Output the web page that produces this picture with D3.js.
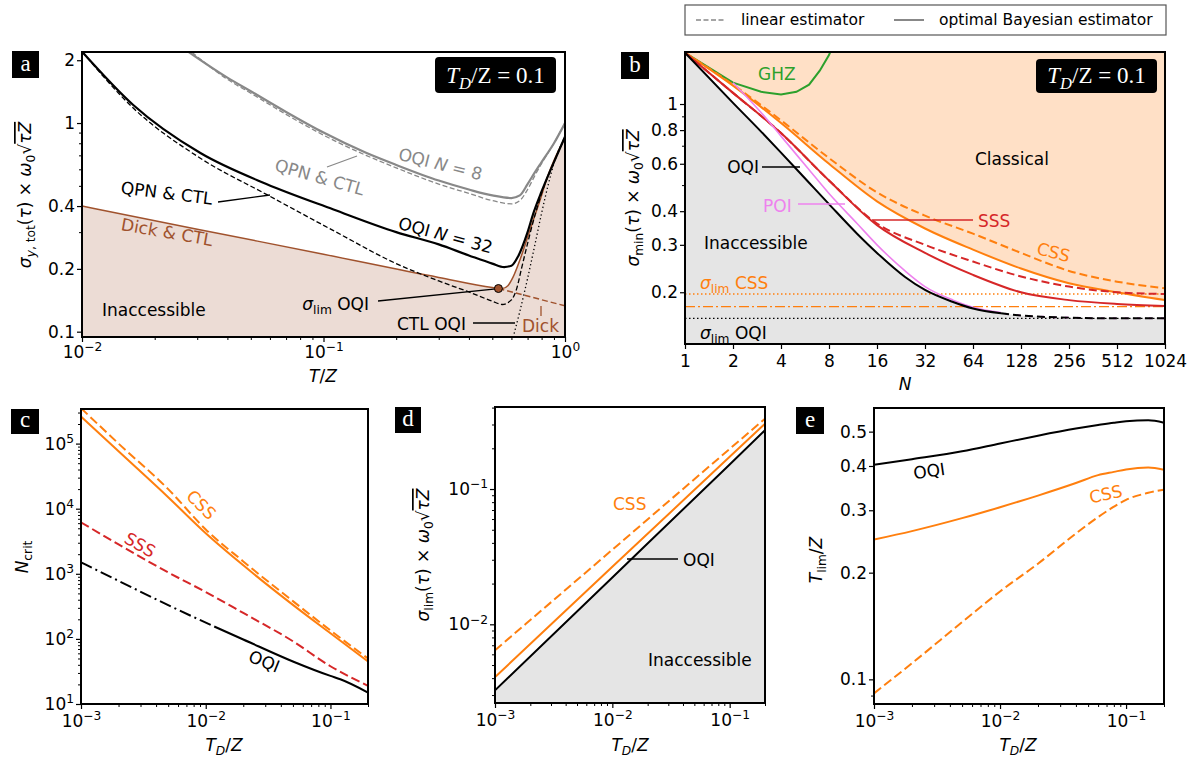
<!DOCTYPE html>
<html><head><meta charset="utf-8">
<script src="https://cdn.jsdelivr.net/npm/d3@7"></script>
<style>
body{margin:0;background:#fff}
</style></head><body>
<svg id="fig" width="1197" height="762"></svg>
<script>
// ---------- panel a : sigma vs T/Z ----------
const aT_oqi32 = [0.01, 0.0163, 0.0308, 0.058, 0.11, 0.2, 0.3, 0.4, 0.5, 0.56, 0.6, 0.64, 0.7, 0.74, 0.8, 0.9, 1.0];
const aS_oqi32 = [2.2, 1.22, 0.72, 0.51, 0.385, 0.30, 0.262, 0.232, 0.212, 0.204, 0.207, 0.23, 0.30, 0.37, 0.47, 0.65, 0.86];
const aT_qpn32 = [0.01, 0.0163, 0.0308, 0.058, 0.11, 0.2, 0.3, 0.4, 0.5, 0.55, 0.6, 0.63, 0.66, 0.7, 0.75, 0.8, 0.9, 1.0];
const aS_qpn32 = [2.2, 1.18, 0.68, 0.455, 0.305, 0.212, 0.175, 0.155, 0.14, 0.135, 0.142, 0.16, 0.2, 0.265, 0.36, 0.46, 0.65, 0.86];
const aT_oqi8 = [0.026, 0.04, 0.05, 0.07, 0.1, 0.15, 0.2, 0.3, 0.4, 0.5, 0.6, 0.65, 0.7, 0.75, 0.8, 0.9, 1.0];
const aS_oqi8 = [2.3, 1.65, 1.42, 1.13, 0.9, 0.72, 0.63, 0.53, 0.48, 0.45, 0.437, 0.45, 0.51, 0.58, 0.65, 0.8, 1.0];
const aT_qpn8 = [0.027, 0.04, 0.05, 0.07, 0.1, 0.15, 0.2, 0.3, 0.4, 0.5, 0.6, 0.65, 0.7, 0.75, 0.8, 0.9, 1.0];
const aS_qpn8 = [2.3, 1.62, 1.39, 1.1, 0.875, 0.7, 0.61, 0.51, 0.46, 0.425, 0.41, 0.425, 0.48, 0.56, 0.64, 0.8, 1.0];
const aT_dick = [0.01, 0.03, 0.1, 0.3, 0.5, 0.55, 0.58, 0.61, 0.65, 0.694, 0.75, 0.79, 0.85, 0.92, 1.0];
const aS_dick = [0.4, 0.31, 0.235, 0.182, 0.163, 0.161, 0.166, 0.183, 0.22, 0.275, 0.36, 0.43, 0.56, 0.7, 0.85];
const aT_dickExt = [0.53, 1.0];
const aS_dickExt = [0.161, 0.133];
const aT_ctl = [0.61, 0.65, 0.7, 0.75, 0.8, 0.85, 0.9, 1.0];
const aS_ctl = [0.094, 0.125, 0.18, 0.26, 0.37, 0.5, 0.64, 0.86];
const aLim = [0.53, 0.161];

// ---------- panel b : sigma_min vs N ----------
const bN = [1, 2, 4, 8, 16, 32, 64, 128, 256, 512, 1024];
const bCssBayes = [1.55, 1.17, 0.85, 0.6, 0.435, 0.345, 0.288, 0.245, 0.216, 0.2, 0.187];
const bCssLin = [1.55, 1.18, 0.87, 0.63, 0.47, 0.385, 0.33, 0.28, 0.24, 0.219, 0.207];
const bSssBayes = [1.55, 1.1, 0.78, 0.52, 0.355, 0.28, 0.232, 0.2, 0.187, 0.181, 0.178];
const bSssLin = [1.55, 1.1, 0.78, 0.52, 0.36, 0.3, 0.26, 0.229, 0.21, 0.2, 0.197];
const bOqiN = [1, 2, 3, 4, 6, 8, 12, 16, 24, 32, 48, 64, 96];
const bOqi = [1.55, 1.01, 0.79, 0.66, 0.51, 0.425, 0.33, 0.28, 0.228, 0.204, 0.184, 0.174, 0.167];
const bPoiN = [2, 3, 4, 6, 8, 12, 16, 24, 32, 48, 64, 96];
const bPoi = [1.2, 0.93, 0.76, 0.57, 0.465, 0.36, 0.3, 0.24, 0.21, 0.187, 0.176, 0.168];
const bTailN = [96, 128, 256, 512, 1024];
const bTail = [0.167, 0.164, 0.161, 0.16, 0.16];
const bGhzN = [1, 2, 3, 4, 5, 6, 7, 8, 9];
const bGhz = [1.55, 1.2, 1.11, 1.085, 1.11, 1.18, 1.33, 1.52, 1.8];
const bLimCss = 0.197, bLimCss2 = 0.177, bLimOqi = 0.16;
const bTicks = [1, 2, 4, 8, 16, 32, 64, 128, 256, 512, 1024];

// ---------- panel c : N_crit vs T_D/Z ----------
const cTd = [0.001, 0.002, 0.005, 0.01, 0.02, 0.05, 0.1, 0.2];
const cCssBayes = [2.6e5, 7.6e4, 1.5e4, 4.2e3, 1.35e3, 333, 122, 45];
const cCssLin = [3.5e5, 1.0e5, 2.0e4, 4.8e3, 1.55e3, 380, 135, 50];
const cSssLin = [6170, 2820, 1050, 525, 250, 92, 38, 19];
const cOqiTdA = [0.001, 0.002, 0.005, 0.0117];
const cOqiA = [1500, 780, 330, 155];
const cOqiTdB = [0.0117, 0.02, 0.05, 0.1, 0.12, 0.2];
const cOqiB = [155, 98, 45, 27, 24, 15];

// ---------- panel d : sigma_lim vs T_D/Z ----------
const dTd = [0.001, 0.01, 0.1, 0.2];
const dOqi = [0.00325, 0.0222, 0.152, 0.272];
const dCssBayes = [0.00407, 0.0266, 0.173, 0.304];
const dCssLin = [0.00643, 0.0356, 0.198, 0.331];

// ---------- panel e : T_lim vs T_D/Z ----------
const eTd = [0.001, 0.002, 0.005, 0.01, 0.02, 0.04, 0.06, 0.08, 0.1, 0.15, 0.2];
const eOqi = [0.403, 0.418, 0.44, 0.463, 0.487, 0.51, 0.522, 0.53, 0.535, 0.538, 0.53];
const eCssBayes = [0.248, 0.262, 0.285, 0.306, 0.33, 0.358, 0.377, 0.385, 0.391, 0.396, 0.39];
const eCssLin = [0.0913, 0.111, 0.145, 0.177, 0.212, 0.258, 0.287, 0.307, 0.321, 0.336, 0.343];

const ORANGE = '#ff7f0e', RED = '#d62728', GREEN = '#2ca02c', VIOLET = '#ee82ee', GREY = '#888888', BROWN = '#a0522d';
const FONT = '"DejaVu Sans", sans-serif', SERIF = '"Liberation Serif", "DejaVu Serif", serif';
const FS = 17;

const svg = d3.select('#fig');
svg.append('rect').attr('width', 1197).attr('height', 762).attr('fill', '#fff');

function rich(t, segs, fs) {
  let shift = 0;
  segs.forEach(s => {
    if (typeof s === 'string') s = {t: s};
    const want = s.sub ? 0.24 * fs : s.sup ? -0.42 * fs : 0;
    const ts = t.append('tspan').text(s.t);
    if (want !== shift) { ts.attr('dy', want - shift); shift = want; }
    if (s.sub || s.sup) ts.attr('font-size', fs * 0.72);
    if (s.it) ts.attr('font-style', 'italic');
    if (s.ol) ts.attr('text-decoration', 'overline');
  });
}

function note(g, x, y, segs, o = {}) {
  const fs = o.fs || FS;
  const t = g.append('text').attr('x', x).attr('y', y).attr('font-size', fs)
    .attr('fill', o.c || '#000').attr('text-anchor', o.a || 'start').attr('font-family', o.ff || FONT);
  if (o.r) t.attr('transform', `rotate(${o.r},${x},${y})`);
  rich(t, typeof segs === 'string' ? [segs] : segs, fs);
  return t;
}

function logMinor(lo, hi, skip) {
  const out = [];
  for (let e = Math.floor(Math.log10(lo)); e <= Math.ceil(Math.log10(hi)); e++)
    for (let k = 1; k < 10; k++) {
      const v = k * Math.pow(10, e);
      if (v >= lo * 0.999 && v <= hi * 1.001 && !skip.some(m => Math.abs(m / v - 1) < 1e-9)) out.push(v);
    }
  return out;
}

function makePanel(id, box, xs, ys) {
  xs.range([box.x0, box.x1]);
  ys.range([box.y1, box.y0]);
  const g = svg.append('g');
  svg.append('clipPath').attr('id', 'clip-' + id).append('rect')
    .attr('x', box.x0).attr('y', box.y0).attr('width', box.x1 - box.x0).attr('height', box.y1 - box.y0);
  const plot = g.append('g').attr('clip-path', `url(#clip-${id})`);
  return {id, g, plot, xs, ys, box};
}

function supify(ga) {
  ga.selectAll('.tick text').each(function () {
    const t = d3.select(this), s = t.text();
    if (!s.includes('^')) return;
    const [b, e] = s.split('^');
    t.text(null);
    t.append('tspan').text(b);
    t.append('tspan').attr('dy', '-0.55em').attr('font-size', '0.72em').text(e.replace('-', '\u2212'));
  });
}

function axis(p, side, major, minor, fmt, pad) {
  const s = side === 'bottom' ? p.xs : p.ys;
  const mk = side === 'bottom' ? d3.axisBottom : d3.axisLeft;
  const tr = side === 'bottom' ? `translate(0,${p.box.y1})` : `translate(${p.box.x0},0)`;
  if (minor.length) {
    const gm = p.g.append('g').attr('transform', tr)
      .call(mk(s).tickValues(minor).tickSize(3).tickFormat(''));
    gm.select('.domain').remove();
    gm.selectAll('line').attr('stroke-width', 1);
  }
  const ga = p.g.append('g').attr('transform', tr)
    .call(mk(s).tickValues(major).tickSize(5).tickPadding(pad).tickFormat(fmt));
  ga.select('.domain').remove();
  ga.attr('font-size', FS).attr('font-family', FONT);
  ga.selectAll('line').attr('stroke-width', 1.2);
  supify(ga);
  return ga;
}

function frame(p) {
  const b = p.box;
  p.g.append('rect').attr('x', b.x0).attr('y', b.y0).attr('width', b.x1 - b.x0).attr('height', b.y1 - b.y0)
    .attr('fill', 'none').attr('stroke', '#000').attr('stroke-width', 2);
}

function pts(X, Y) { return X.map((x, i) => [x, Y[i]]); }

function curve(p, X, Y, st) {
  const line = d3.line().x(d => p.xs(d[0])).y(d => p.ys(d[1]))
    .curve(st.linear ? d3.curveLinear : d3.curveMonotoneX);
  return p.plot.append('path').datum(pts(X, Y)).attr('d', line).attr('fill', 'none')
    .attr('stroke', st.c).attr('stroke-width', st.w || 2)
    .attr('stroke-dasharray', st.dash || null).attr('stroke-dashoffset', st.off || 0);
}

function fill(p, X, Y, color, above) {
  const area = d3.area().x(d => p.xs(d[0]))
    .y0(above ? p.box.y0 : p.box.y1).y1(d => p.ys(d[1])).curve(d3.curveMonotoneX);
  p.plot.append('path').datum(pts(X, Y)).attr('d', area).attr('fill', color);
}

function hline(p, v, st) {
  p.plot.append('line').attr('x1', p.box.x0).attr('x2', p.box.x1).attr('y1', p.ys(v)).attr('y2', p.ys(v))
    .attr('stroke', st.c).attr('stroke-width', st.w || 1.3).attr('stroke-dasharray', st.dash);
}

function pointer(g, x1, y1, x2, y2, c, w, dash) {
  return g.append('line').attr('x1', x1).attr('y1', y1).attr('x2', x2).attr('y2', y2)
    .attr('stroke', c || '#000').attr('stroke-width', w || 1.3).attr('stroke-dasharray', dash || null);
}

function letter(x, y, w, h, s) {
  svg.append('rect').attr('x', x).attr('y', y).attr('width', w).attr('height', h).attr('fill', '#000');
  note(svg, x + w / 2, y + h - 7, s, {c: '#fff', a: 'middle', ff: SERIF, fs: 23});
}

function tdBox(x, y, w, h) {
  svg.append('rect').attr('x', x).attr('y', y).attr('width', w).attr('height', h).attr('rx', 4).attr('fill', '#000');
  note(svg, x + w / 2, y + h - 10, [{t: 'T', it: 1}, {t: 'D', it: 1, sub: 1}, '/Z = 0.1'],
    {c: '#fff', a: 'middle', ff: SERIF, fs: 23});
}

const supFmt = d => '10^' + Math.round(Math.log10(d));
const sigLabel = sub => [{t: 'σ', it: 1}, ...sub, '(', {t: 'τ', it: 1}, ') × ', {t: 'ω', it: 1}, {t: '0', sub: 1}, '√', {t: 'τZ', it: 1, ol: 1}];
const tdLabel = [{t: 'T', it: 1}, {t: 'D', it: 1, sub: 1}, '/', {t: 'Z', it: 1}];
const decX = [0.001, 0.01, 0.1];

// ================= panel a =================
{
  const p = makePanel('a', {x0: 82, x1: 565, y0: 52, y1: 337},
    d3.scaleLog().domain([0.01, 1]), d3.scaleLog().domain([0.0943, 2.19]));
  fill(p, aT_dick, aS_dick, '#ecdcd5');
  curve(p, aT_dickExt, aS_dickExt, {c: BROWN, w: 1.5, dash: '6,3', linear: 1});
  curve(p, aT_dick, aS_dick, {c: BROWN, w: 1.5});
  curve(p, aT_qpn8, aS_qpn8, {c: GREY, w: 1.3, dash: '5,2.5'});
  curve(p, aT_oqi8, aS_oqi8, {c: GREY, w: 2.2});
  curve(p, aT_qpn32, aS_qpn32, {c: '#000', w: 1.3, dash: '5,2.5'});
  curve(p, aT_ctl, aS_ctl, {c: '#000', w: 1.3, dash: '1.3,2.6'});
  curve(p, aT_oqi32, aS_oqi32, {c: '#000', w: 2.2});
  const fx = p.xs(aLim[0]), fy = p.ys(aLim[1]);
  pointer(p.g, 378, 301, fx, fy);
  p.g.append('circle').attr('cx', fx).attr('cy', fy).attr('r', 4).attr('fill', BROWN).attr('stroke', '#000').attr('stroke-width', 1);
  pointer(p.g, 473, 323, 515, 323);
  pointer(p.g, 541, 306, 541, 316, BROWN);
  pointer(p.g, 218, 202, 270, 195);
  pointer(p.g, 327, 167, 357, 156, GREY);

  const yMaj = [0.1, 0.2, 0.4, 1, 2];
  axis(p, 'left', yMaj, logMinor(0.0943, 2.19, yMaj), d => String(d), 2);
  const xMaj = [0.01, 0.1, 1];
  axis(p, 'bottom', xMaj, logMinor(0.01, 1, xMaj), supFmt, 4);
  frame(p);

  note(p.g, 166, 199, 'QPN & CTL', {a: 'middle', r: 7});
  note(p.g, 166, 238, 'Dick & CTL', {a: 'middle', r: 10, c: BROWN});
  note(p.g, 318, 183, 'QPN & CTL', {a: 'middle', r: 16, c: GREY});
  note(p.g, 439, 170, ['OQI ', {t: 'N', it: 1}, ' = 8'], {a: 'middle', r: 14, c: GREY});
  note(p.g, 444, 241, ['OQI ', {t: 'N', it: 1}, ' = 32'], {a: 'middle', r: 15});
  note(p.g, 102, 316, 'Inaccessible');
  note(p.g, 369, 310, [{t: 'σ', it: 1}, {t: 'lim', sub: 1}, ' OQI'], {a: 'end'});
  note(p.g, 397, 330, 'CTL OQI');
  note(p.g, 522, 332, 'Dick', {c: BROWN});
  note(svg, 323, 382, [{t: 'T', it: 1}, '/', {t: 'Z', it: 1}], {a: 'middle'});
  note(svg, 31, 195, sigLabel([{t: 'y', it: 1, sub: 1}, {t: ', tot', sub: 1}]), {a: 'middle', r: -90});
  letter(12, 51, 27, 27, 'a');
  tdBox(435, 57, 121, 36);
}

// ================= panel b =================
{
  const p = makePanel('b', {x0: 685, x1: 1165, y0: 52, y1: 344},
    d3.scaleLog().base(2).domain([1, 1024]), d3.scaleLog().domain([0.1285, 1.56]));
  fill(p, bN, bCssBayes, '#ffe0c6', true);
  fill(p, bOqiN.concat(bTailN.slice(1)), bOqi.concat(bTail.slice(1)), '#e5e5e5');
  hline(p, bLimCss, {c: ORANGE, dash: '1.5,2.5'});
  hline(p, bLimCss2, {c: ORANGE, dash: '10,3,2,3'});
  hline(p, bLimOqi, {c: '#000', dash: '1.5,2.5'});
  curve(p, bGhzN, bGhz, {c: GREEN, linear: 1});
  curve(p, bN, bCssLin, {c: ORANGE, dash: '8,4'});
  curve(p, bN, bCssBayes, {c: ORANGE});
  curve(p, bN, bSssLin, {c: RED, dash: '8,4'});
  curve(p, bN, bSssBayes, {c: RED});
  curve(p, bPoiN, bPoi, {c: VIOLET, w: 1.6});
  curve(p, bOqiN, bOqi, {c: '#000'});
  curve(p, bTailN, bTail, {c: VIOLET, dash: '3,9', off: 8});
  curve(p, bTailN, bTail, {c: '#000', dash: '8,4'});
  pointer(p.g, 762, 167, 800, 167);
  pointer(p.g, 798, 204, 845, 204, VIOLET);
  pointer(p.g, 872, 220, 973, 220, RED);

  axis(p, 'left', [0.2, 0.3, 0.4, 0.6, 0.8, 1], [0.5, 0.7, 0.9], d => String(d), 2);
  axis(p, 'bottom', bTicks, [], d => String(d), 6);
  frame(p);

  note(p.g, 758, 80, 'GHZ', {c: GREEN});
  note(p.g, 975, 165, 'Classical');
  note(p.g, 704, 249, 'Inaccessible');
  note(p.g, 759, 173, 'OQI', {a: 'end'});
  note(p.g, 763, 212, 'POI', {c: VIOLET});
  note(p.g, 978, 227, 'SSS', {c: RED});
  note(p.g, 1052, 258, 'CSS', {c: ORANGE, a: 'middle', r: 15});
  note(p.g, 700, 289, [{t: 'σ', it: 1}, {t: 'lim', sub: 1}, ' CSS'], {c: ORANGE});
  note(p.g, 700, 339, [{t: 'σ', it: 1}, {t: 'lim', sub: 1}, ' OQI']);
  note(svg, 905, 390, [{t: 'N', it: 1}], {a: 'middle'});
  note(svg, 639, 198, sigLabel([{t: 'min', sub: 1}]), {a: 'middle', r: -90});
  letter(621, 52, 28, 27, 'b');
  tdBox(1036, 59, 121, 34);

  // legend
  svg.append('rect').attr('x', 685).attr('y', 5).attr('width', 481).attr('height', 30)
    .attr('fill', '#fff').attr('stroke', '#555').attr('stroke-width', 1.2);
  pointer(svg, 696, 20, 725, 20, GREY, 1.6, '5,2.5');
  pointer(svg, 894, 20, 924, 20, GREY, 2);
  note(svg, 741, 25, 'linear estimator', {fs: 15.5});
  note(svg, 939, 25, 'optimal Bayesian estimator', {fs: 15.5});
}

// ================= panel c =================
{
  const p = makePanel('c', {x0: 81, x1: 368, y0: 409, y1: 704},
    d3.scaleLog().domain([0.001, 0.2]), d3.scaleLog().domain([10, 3.4e5]));
  curve(p, cTd, cCssLin, {c: ORANGE, dash: '9,4'});
  curve(p, cTd, cCssBayes, {c: ORANGE});
  curve(p, cTd, cSssLin, {c: RED, dash: '9,4'});
  curve(p, cOqiTdA, cOqiA, {c: '#000', dash: '12,4,2,4'});
  curve(p, cOqiTdB, cOqiB, {c: '#000'});
  const yMaj = [10, 100, 1e3, 1e4, 1e5];
  axis(p, 'left', yMaj, logMinor(10, 3.4e5, yMaj), supFmt, 2);
  axis(p, 'bottom', decX, logMinor(0.001, 0.2, decX), supFmt, 6);
  frame(p);
  note(p.g, 197, 509, 'CSS', {c: ORANGE, a: 'middle', r: 45});
  note(p.g, 137, 550, 'SSS', {c: RED, a: 'middle', r: 30});
  note(p.g, 262, 667, 'OQI', {a: 'middle', r: 22});
  note(svg, 224, 751, tdLabel, {a: 'middle'});
  note(svg, 28, 557, [{t: 'N', it: 1}, {t: 'crit', sub: 1}], {a: 'middle', r: -90});
  letter(11, 409, 28, 25, 'c');
}

// ================= panel d =================
{
  const p = makePanel('d', {x0: 495, x1: 765, y0: 407, y1: 703},
    d3.scaleLog().domain([0.001, 0.2]), d3.scaleLog().domain([0.00262, 0.404]));
  fill(p, dTd, dOqi, '#e5e5e5');
  curve(p, dTd, dCssLin, {c: ORANGE, dash: '9,4'});
  curve(p, dTd, dCssBayes, {c: ORANGE});
  curve(p, dTd, dOqi, {c: '#000'});
  const yMaj = [0.01, 0.1];
  axis(p, 'left', yMaj, logMinor(0.00262, 0.404, yMaj), supFmt, 2);
  axis(p, 'bottom', decX, logMinor(0.001, 0.2, decX), supFmt, 6);
  frame(p);
  pointer(p.g, 627, 559, 678, 559);
  note(p.g, 613, 510, 'CSS', {c: ORANGE});
  note(p.g, 683, 566, 'OQI');
  note(p.g, 648, 666, 'Inaccessible');
  note(svg, 630, 751, tdLabel, {a: 'middle'});
  note(svg, 429, 555, sigLabel([{t: 'lim', sub: 1}]), {a: 'middle', r: -90});
  letter(395, 407, 26, 26, 'd');
}

// ================= panel e =================
{
  const p = makePanel('e', {x0: 874, x1: 1164, y0: 408, y1: 704},
    d3.scaleLog().domain([0.001, 0.2]), d3.scaleLog().domain([0.0852, 0.583]));
  curve(p, eTd, eCssLin, {c: ORANGE, dash: '9,4'});
  curve(p, eTd, eCssBayes, {c: ORANGE});
  curve(p, eTd, eOqi, {c: '#000'});
  axis(p, 'left', [0.1, 0.2, 0.3, 0.4, 0.5], [0.09], d => String(d), 2);
  axis(p, 'bottom', decX, logMinor(0.001, 0.2, decX), supFmt, 6);
  frame(p);
  note(p.g, 930, 477, 'OQI', {a: 'middle', r: -8});
  note(p.g, 1107, 500, 'CSS', {c: ORANGE, a: 'middle', r: -12});
  note(svg, 1018, 751, tdLabel, {a: 'middle'});
  note(svg, 822, 560, [{t: 'T', it: 1}, {t: 'lim', sub: 1}, '/', {t: 'Z', it: 1}], {a: 'middle', r: -90});
  letter(796, 407, 28, 27, 'e');
}
</script></body></html>
